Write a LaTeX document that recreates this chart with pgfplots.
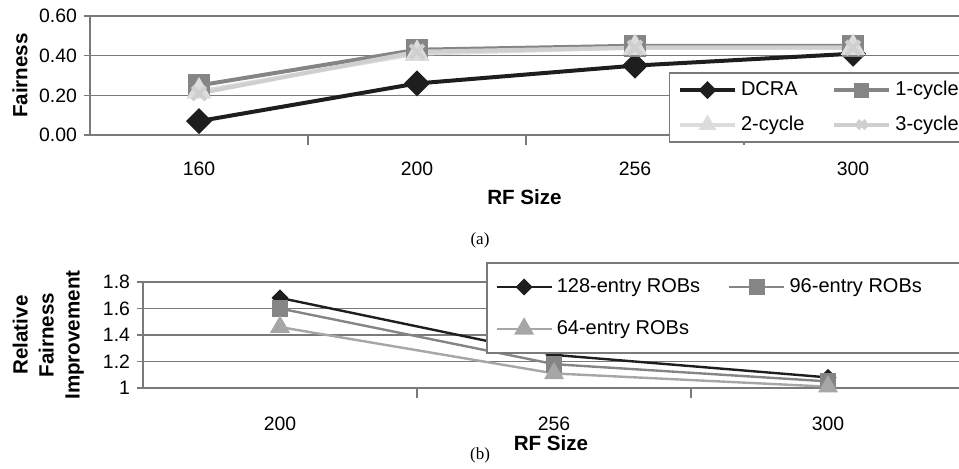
\documentclass[border=0pt]{standalone}
\usepackage{pgfplots}
\pgfplotsset{compat=1.18}
\usepackage{fontspec}
\setmainfont{Liberation Sans}
\newfontfamily\capfont{Liberation Serif}

\definecolor{cDark}{HTML}{1E1E1E}
\definecolor{cMid}{HTML}{858585}
\definecolor{cLight}{HTML}{DCDCDC}
\definecolor{cLight2}{HTML}{CFCFCF}
\definecolor{cLow}{HTML}{A6A6A6}
\definecolor{axgray}{HTML}{7A7A7A}

\pgfplotsset{
  panel/.style={
    scale only axis, anchor=south west, clip=false,
    axis lines*=left,
    axis line style={axgray, line width=0.8pt},
    ymajorgrids, grid style={axgray, line width=0.6pt},
    tick align=outside, major tick length=3pt, minor tick length=5pt,
    major x tick style={draw=none},
    minor x tick style={draw=axgray, line width=0.8pt},
    y tick style={draw=axgray, line width=0.8pt},
    tick label style={font=\fontsize{9.7}{11}\selectfont},
    label style={font=\bfseries\fontsize{10.3}{13}\selectfont},
    /pgf/number format/assume math mode=true,
    legend cell align=left,
  },
  legimg/.style={
    legend image code/.code={
      \draw[mark repeat=2, mark phase=2, every mark/.append style={scale=#1}]
        plot coordinates {(0pt,0pt) (13.75pt,0pt) (27.5pt,0pt)};
    },
  },
}

\begin{document}
\begin{tikzpicture}
\useasboundingbox (0pt,0pt) rectangle (479.5pt,-234pt);
\coordinate (R) at (490pt,0pt);

% (a) fairness vs RF size
\begin{axis}[panel, legimg=0.6,
  at={(45pt,-67.5pt)}, width=434.5pt, height=59.5pt,
  xmin=-0.5, xmax=3.486, ymin=0, ymax=0.6,
  xtick={0,1,2,3}, xticklabels={160,200,256,300},
  minor xtick={0.5,1.5,2.5},
  ytick={0,0.2,0.4,0.6},
  yticklabel style={/pgf/number format/.cd, fixed, fixed zerofill, precision=2},
  xticklabel style={yshift=-7pt},
  xlabel={RF Size}, ylabel={Fairness},
  xlabel style={at={(axis description cs:0.5,-0.521)}, anchor=center},
  ylabel style={at={(axis description cs:-0.0805,0.5)}, anchor=center},
  legend columns=2,
  legend style={at={(axis description cs:0.667,0.521)}, anchor=north west,
    name=legA, draw=none, font=\fontsize{10}{12}\selectfont,
    inner xsep=4pt, inner ysep=2pt, row sep=4.5pt,
    /tikz/every even column/.append style={column sep=12pt}},
]
\addplot[cDark, line width=2pt, mark=square*, mark size=3.6pt, mark options={fill=cDark, rotate=45}]
  coordinates {(0,0.07) (1,0.26) (2,0.35) (3,0.41)};
\addlegendentry{DCRA}
\addplot[cMid, line width=2pt, mark=square*, mark size=4.6pt, mark options={fill=cMid}]
  coordinates {(0,0.25) (1,0.43) (2,0.45) (3,0.45)};
\addlegendentry{1-cycle}
\addplot[cLight, line width=2pt, mark=triangle*, mark size=5.2pt, mark options={fill=cLight}]
  coordinates {(0,0.22) (1,0.41) (2,0.44) (3,0.44)};
\addlegendentry{2-cycle}
\addplot[cLight2, line width=2pt, mark=x, mark size=4.8pt]
  coordinates {(0,0.21) (1,0.42) (2,0.44) (3,0.44)};
\addlegendentry{3-cycle}
\end{axis}
\fill[white] (legA.south east) rectangle (legA.north east -| R);
\draw[axgray, line width=0.8pt] (legA.south west) rectangle (legA.north west -| R);

% (b) relative fairness improvement
\begin{axis}[panel, legimg=1,
  at={(71.5pt,-194pt)}, width=408pt, height=53pt,
  xmin=-0.5, xmax=2.478, ymin=1, ymax=1.8,
  xtick={0,1,2}, xticklabels={200,256,300},
  minor xtick={0.5,1.5},
  ytick={1,1.2,1.4,1.6,1.8},
  xticklabel style={yshift=-8pt},
  xlabel={RF Size},
  ylabel={Relative\\Fairness\\Improvement},
  xlabel style={at={(axis description cs:0.5,-0.519)}, anchor=center},
  ylabel style={at={(axis description cs:-0.116,0.5)}, anchor=center, align=center},
  legend columns=2,
  legend style={at={(axis description cs:0.4216,1.179)}, anchor=north west,
    name=legB, draw=none, font=\fontsize{10}{12}\selectfont,
    inner xsep=4pt, inner ysep=5.5pt, row sep=8.5pt,
    /tikz/every even column/.append style={column sep=12pt}},
]
\addplot[cDark, line width=1.2pt, mark=square*, mark size=2.4pt, mark options={fill=cDark, rotate=45}]
  coordinates {(0,1.68) (1,1.25) (2,1.08)};
\addlegendentry{128-entry ROBs}
\addplot[cMid, line width=1.2pt, mark=square*, mark size=3.6pt, mark options={fill=cMid}]
  coordinates {(0,1.60) (1,1.18) (2,1.05)};
\addlegendentry{96-entry ROBs}
\addplot[cLow, line width=1.2pt, mark=triangle*, mark size=4.6pt, mark options={fill=cLow}]
  coordinates {(0,1.46) (1,1.11) (2,1.01)};
\addlegendentry{64-entry ROBs}
\end{axis}
\fill[white] (legB.south east) rectangle (legB.north east -| R);
\draw[axgray, line width=0.8pt] (legB.south west) rectangle (legB.north west -| R);

\node[font=\capfont\fontsize{8.5}{10}\selectfont] at (240pt,-120pt) {(a)};
\node[font=\capfont\fontsize{8.5}{10}\selectfont] at (240pt,-227.5pt) {(b)};
\end{tikzpicture}
\end{document}
